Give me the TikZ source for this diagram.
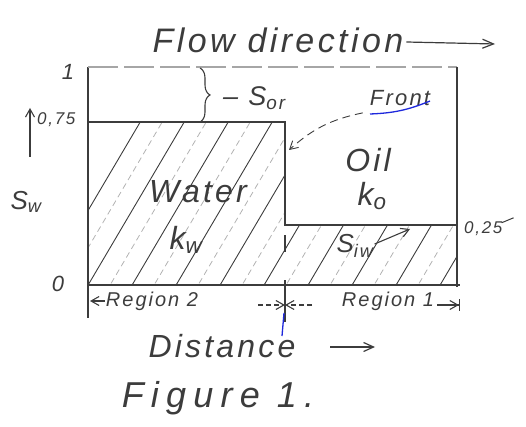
\documentclass[tikz,border=0pt]{standalone}
\usepackage{fontspec}
\setmainfont{Liberation Sans}
\usetikzlibrary{
    arrows.meta,
    decorations.pathreplacing,
    positioning
    }
\definecolor{PencilGray}{RGB}{60, 60, 60}
\definecolor{PenBlue}{RGB}{30, 40, 220}
\tikzset{
    hand/.style={text=PencilGray, font=\itshape\fontsize{#1}{#1}\selectfont\addfontfeature{LetterSpace=10}, inner sep=1pt},
    hand/.default=22,
    edge/.style={PencilGray, line width=1.1pt},
    hatch/.style={PencilGray, line width=0.9pt},
    hatchlight/.style={gray!60, line width=0.8pt, dash pattern=on 6pt off 4pt},
    pointer/.style={PencilGray, line width=1.1pt, -{Straight Barb[length=8pt,width=9pt]}}
}

\begin{document}
\begin{tikzpicture}[x=1pt, y=-1pt]
    \useasboundingbox (0,0) rectangle (526,427);

    %Saturation profile
    \coordinate (origin) at (88,285);
    \coordinate (top) at (88,67);
    \coordinate (tr) at (457,67);
    \coordinate (br) at (460,285);
    \coordinate (wtop) at (88,122);
    \coordinate (fronttop) at (285,122);
    \coordinate (frontbot) at (285,225);
    \coordinate (siwend) at (457,225);

    \begin{scope}
        \clip (88,122) rectangle (285,285) (285,225) rectangle (457,285);
        \foreach \i in {0,2,...,30}
            \draw[hatch] (40+\i*22,292) -- ++(125,-212);
        \foreach \i in {1,3,...,31}
            \draw[hatchlight] (40+\i*22,292) -- ++(125,-212);
    \end{scope}

    \draw[edge] (top) -- (origin) -- (br);
    \draw[edge] (88,285) -- (88,318);
    \draw[edge, gray!70, dash pattern=on 30pt off 6pt] (top) -- (tr);
    \draw[edge] (tr) -- (457,287);
    \draw[edge] (wtop) -- (fronttop) -- (frontbot) -- (siwend);
    \draw[edge] (285,235) -- (285,252);
    \draw[edge] (285,280) -- (285,322);

    %Axis labels
    \node[hand=22] (one) at (68,72) {1};
    \node[hand=17, anchor=west] (sw75) at (36,120) {0,75};
    \draw[pointer] (30,157) -- (30,108);
    \node[hand=26] (sw) at (26,202) {S\textsubscript{w}};
    \node[hand=22] (zero) at (58,284) {0};
    \node[hand=17, anchor=west] (sw25) at (463,229) {0,25};
    \draw[PencilGray, line width=1pt] (sw25.north east) ++(-2,2) -- ++(12,-5);

    %Flow direction
    \node[hand=34] (flow) at (278,40) {Flow direction};
    \draw[PencilGray, line width=1.2pt, -{Straight Barb[length=11pt,width=9pt]}] (flow.east) ++(2,2) -- (495,44);

    %Residual oil
    \draw[edge, decorate, decoration={brace, amplitude=10pt}] (200,68) -- (200,122);
    \node[hand=27, anchor=west] (sor) at (222,98) {-- S\textsubscript{or}};

    %Front
    \node[hand=22] (front) at (400,98) {Front};
    \draw[PenBlue, line width=1.3pt] (370,114) to[bend right=10] (430,101);
    \coordinate (fronthit) at (289,150);
    \draw[PencilGray, line width=0.9pt, dash pattern=on 8pt off 5pt, -{Straight Barb[length=8pt,width=9pt]}] (front.south west) ++(-6,6) to[bend right=15] (fronthit);

    %Phases
    \node[hand=32] (water) at (198,192) {Water};
    \node[hand=32] (kw) at (186,240) {k\textsubscript{w}};
    \node[hand=32] (oil) at (368,160) {Oil};
    \node[hand=32] (ko) at (372,196) {k\textsubscript{o}};
    \node[hand=26] (siw) at (355,246) {S\textsubscript{iw}};
    \coordinate (siwtip) at (410,229);
    \draw[pointer] (siw.east) ++(0,-2) -- (siwtip);

    %Regions
    \node[hand=20] (reg2) at (152,301) {Region 2};
    \node[hand=20] (reg1) at (388,301) {Region 1};
    \draw[pointer] (reg2.west) -- (90,301);
    \draw[pointer, -{Straight Barb[length=8pt,width=9pt]Bar[width=12pt]}] (reg1.east) ++(2,4) -- (460,305);
    \coordinate (fronttick) at (285,305);
    \draw[pointer, dash pattern=on 5pt off 3pt] (258,305) -- (fronttick);
    \draw[pointer, dash pattern=on 5pt off 3pt] (312,305) -- (fronttick);
    \draw[PenBlue, line width=1.3pt] (284,313) -- (282,336);

    %Captions
    \node[hand=32] (dist) at (222,346) {Distance};
    \draw[PencilGray, line width=1.2pt, -{Straight Barb[length=10pt,width=9pt]}] (330,347) -- (375,347);
    \node[hand, font=\itshape\fontsize{36}{36}\selectfont\addfontfeature{LetterSpace=20}] (fig) at (218,398) {Figure 1.};
\end{tikzpicture}
\end{document}
